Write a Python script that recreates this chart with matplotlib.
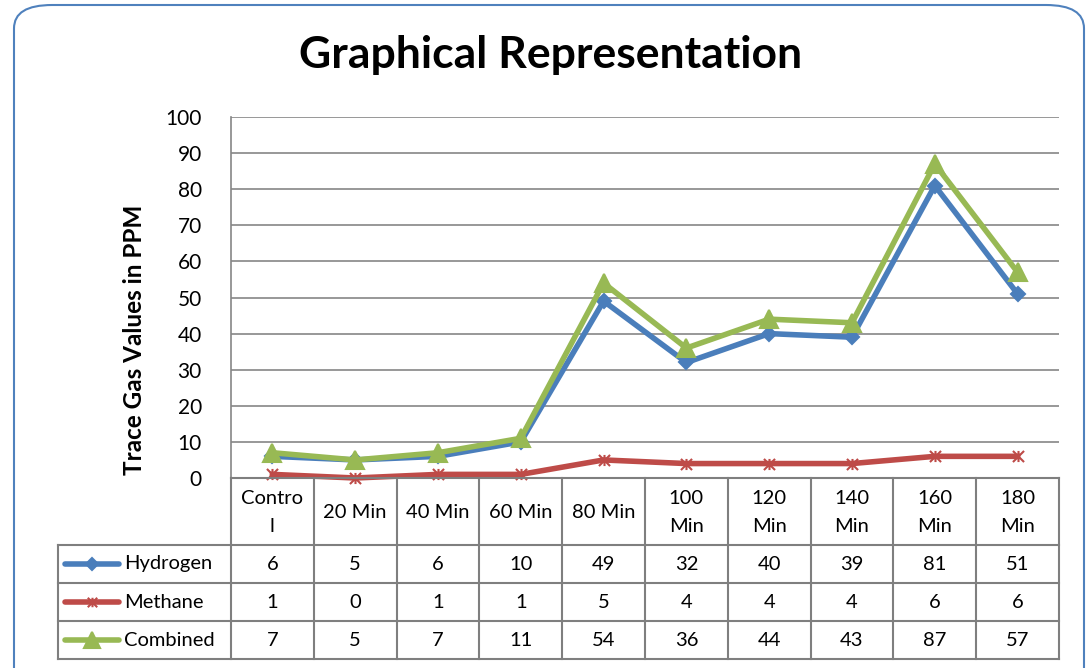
import matplotlib.pyplot as plt
from matplotlib.lines import Line2D
from matplotlib.patches import FancyBboxPatch
from matplotlib.path import Path

plt.rcParams['font.family'] = ['Lato', 'DejaVu Sans']

categories = ['Contro\nl', '20 Min', '40 Min', '60 Min', '80 Min',
              '100\nMin', '120\nMin', '140\nMin', '160\nMin', '180\nMin']
series_names = ['Hydrogen', 'Methane', 'Combined']
hydrogen = [6, 5, 6, 10, 49, 32, 40, 39, 81, 51]
methane = [1, 0, 1, 1, 5, 4, 4, 4, 6, 6]
combined = [7, 5, 7, 11, 54, 36, 44, 43, 87, 57]
y_ticks = [0, 10, 20, 30, 40, 50, 60, 70, 80, 90, 100]

# Excel style "star" marker: an X with a vertical stroke
star = Path([(-1, -1), (1, 1), (-1, 1), (1, -1), (0, -1), (0, 1)],
            [Path.MOVETO, Path.LINETO, Path.MOVETO, Path.LINETO,
             Path.MOVETO, Path.LINETO])

colors = ['#4A7EBB', '#BE4B48', '#98B954']
markers = ['D', star, '^']
msizes = [7, 8, 13]
values = [hydrogen, methane, combined]

W, H = 1089, 668
fig = plt.figure(figsize=(W / 100, H / 100), dpi=100)

def fx(px):
    return px / W

def fy(py):
    return 1 - py / H

# plot area in pixels
L, R, T, B = 231, 1059, 117, 478
ax = fig.add_axes([fx(L), fy(B), fx(R) - fx(L), fy(T) - fy(B)])
ax.set_xlim(-0.5, len(categories) - 0.5)
ax.set_ylim(0, 100)
ax.set_yticks(y_ticks)
ax.set_xticks([])
ax.tick_params(axis='y', length=0, labelsize=15, pad=21)
for s in ['top', 'right', 'bottom']:
    ax.spines[s].set_visible(False)
ax.spines['left'].set_color('#868686')
ax.spines['left'].set_linewidth(1.2)
ax.grid(axis='y', color='#868686', linewidth=1.2)
ax.set_axisbelow(True)

for name, vals, c, m, ms in zip(series_names, values, colors, markers, msizes):
    ax.plot(range(len(vals)), vals, color=c, linewidth=4, marker=m,
            markersize=ms, markeredgecolor=c, markeredgewidth=1.5, label=name,
            clip_on=False, zorder=3)

fig.text(fx(135), fy(340), 'Trace Gas Values in PPM', fontsize=17.5,
         fontweight='bold', rotation=90, ha='center', va='center')
fig.text(fx(551), fy(55), 'Graphical Representation', fontsize=32,
         fontweight='bold', ha='center', va='center')

# data table
grid_c = '#7F7F7F'
col_w = (R - L) / len(categories)
col_edges = [L + i * col_w for i in range(len(categories) + 1)]
row_edges = [B, 545, 583, 621, 659]
leg_left = 58

def hline(x0, x1, y):
    fig.add_artist(Line2D([fx(x0), fx(x1)], [fy(y), fy(y)], color=grid_c,
                          linewidth=1.5))

def vline(x, y0, y1):
    fig.add_artist(Line2D([fx(x), fx(x)], [fy(y0), fy(y1)], color=grid_c,
                          linewidth=1.5))

hline(L, R, row_edges[0])
for y in row_edges[1:]:
    hline(leg_left, R, y)
for x in col_edges:
    vline(x, row_edges[0], row_edges[-1])
vline(leg_left, row_edges[1], row_edges[-1])

for i, cat in enumerate(categories):
    cx = (col_edges[i] + col_edges[i + 1]) / 2
    fig.text(fx(cx), fy((row_edges[0] + row_edges[1]) / 2 + 1), cat,
             fontsize=14.5, ha='center', va='center', linespacing=1.75)
    for r, vals in enumerate(values):
        cy = (row_edges[r + 1] + row_edges[r + 2]) / 2
        fig.text(fx(cx), fy(cy), str(vals[i]), fontsize=14.5,
                 ha='center', va='center')

for r, (name, c, m, ms) in enumerate(zip(series_names, colors, markers, msizes)):
    cy = (row_edges[r + 1] + row_edges[r + 2]) / 2
    fig.add_artist(Line2D([fx(65), fx(119)], [fy(cy), fy(cy)], color=c,
                          linewidth=4, solid_capstyle='round'))
    fig.add_artist(Line2D([fx(92)], [fy(cy)], color=c, marker=m,
                          markersize=ms * 0.85, markeredgecolor=c,
                          markeredgewidth=1.5))
    fig.text(fx(124), fy(cy), name, fontsize=14.5, ha='left', va='center')

# rounded chart border
fig.add_artist(FancyBboxPatch((fx(14), fy(700)), fx(1084) - fx(14),
                              fy(5) - fy(700),
                              boxstyle='round,pad=0,rounding_size=0.035',
                              transform=fig.transFigure, fill=False,
                              edgecolor='#4F81BD', linewidth=1.5))

fig.savefig('out.png', dpi=100)
